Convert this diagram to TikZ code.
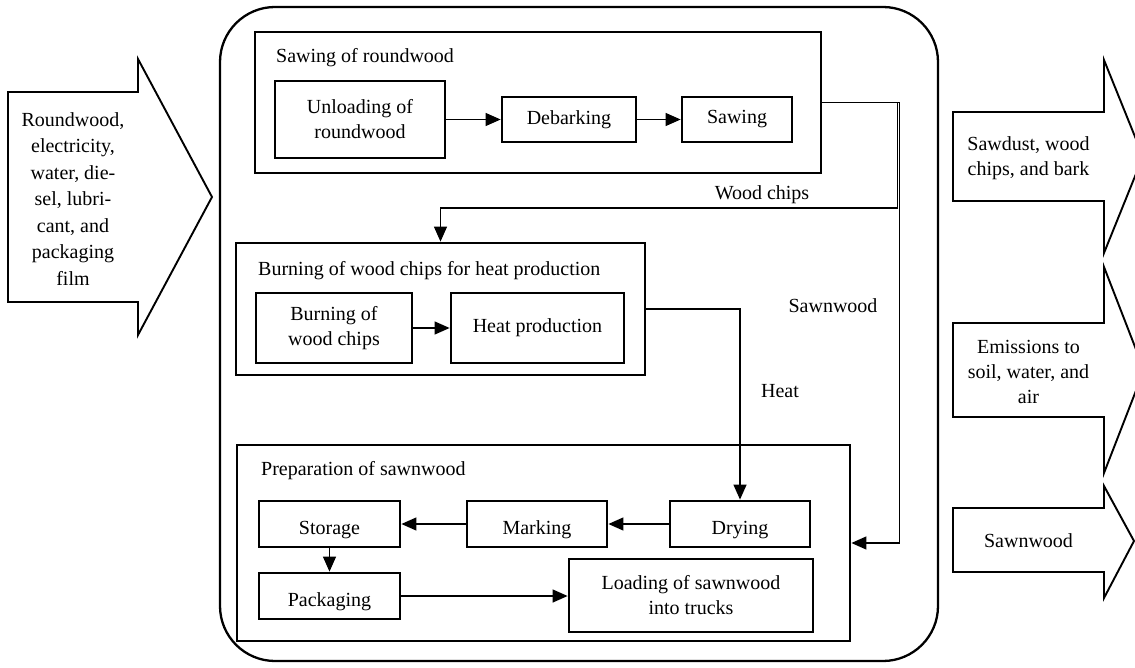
\documentclass[tikz,border=0pt]{standalone}
\usepackage{fontspec}
\setmainfont{Liberation Serif}
\usetikzlibrary{arrows.meta}
\begin{document}
\begin{tikzpicture}[x=1pt,y=-1pt,
  font=\fontsize{20}{25}\selectfont,
  box/.style={draw, line width=2.8pt, inner sep=0pt, align=center},
  lowbox/.style={box, text depth=0pt, text height=21pt},
  grp/.style={draw, line width=2.8pt, inner sep=0pt},
  flow/.style={line width=1.3pt, -{Triangle[length=15pt,width=13pt]}},
  wire/.style={line width=1.3pt},
  bigarrow/.style={draw, line width=1.9pt, line join=miter},
  lbl/.style={inner sep=0pt, align=center}]
\clip (0,0) rectangle (1135,668);

% plant boundary
\node[draw, line width=2.3pt, rounded corners=55pt, minimum width=718pt,
      minimum height=654pt, inner sep=0pt] (plant) at (579,334) {};

% inputs
\draw[bigarrow] (8,92) -- (138,92) -- (138,59) -- (212,197) -- (138,335)
  -- (138,302) -- (8,302) -- cycle;
\node[lbl, font=\fontsize{20}{26.5}\selectfont] (inputs) at (73,199)
  {Roundwood,\\electricity,\\water, die-\\sel, lubri-\\cant, and\\packaging\\film};

% outputs
\draw[bigarrow] (953,112) -- (1104,112) -- (1104,60) -- (1143,156.5)
  -- (1104,253) -- (1104,201) -- (953,201) -- cycle;
\node[lbl] (out1) at (1028.5,158) {Sawdust, wood\\chips, and bark};
\draw[bigarrow] (953,323) -- (1104,323) -- (1104,267) -- (1144,370)
  -- (1104,473) -- (1104,417) -- (953,417) -- cycle;
\node[lbl] (out2) at (1028.5,372) {Emissions to\\soil, water, and\\air};
\draw[bigarrow] (953,508) -- (1104,508) -- (1104,486) -- (1134,541)
  -- (1104,598) -- (1104,572) -- (953,572) -- cycle;
\node[lbl] (out3) at (1028.5,541) {Sawnwood};

% sawing of roundwood
\node[grp, minimum width=566pt, minimum height=141pt] (sawgrp) at (538,102.5) {};
\node[lbl, anchor=west] (sawtitle) at (276,58) {Sawing of roundwood};
\node[box, minimum width=170pt, minimum height=77pt] (unload) at (360,119.5) {Unloading of\\roundwood};
\node[box, minimum width=134pt, minimum height=45pt] (debark) at (569,119.5) {Debarking};
\node[box, minimum width=110pt, minimum height=45pt] (sawing) at (737,119.5) {Sawing};
\draw[flow] (unload) -- (debark);
\draw[flow] (debark) -- (sawing);

% burning of wood chips
\node[grp, minimum width=409pt, minimum height=132pt] (burngrp) at (440.5,309) {};
\node[lbl, anchor=west] (burntitle) at (258,271) {Burning of wood chips for heat production};
\node[box, minimum width=156pt, minimum height=70pt] (burnchips) at (334,328) {Burning of\\wood chips};
\node[box, minimum width=173pt, minimum height=70pt] (heatprod) at (537.5,328) {Heat production};
\draw[flow] (burnchips) -- (heatprod);

% preparation of sawnwood
\node[grp, minimum width=613pt, minimum height=196pt] (prepgrp) at (543.5,543) {};
\node[lbl, anchor=west] (preptitle) at (261,471) {Preparation of sawnwood};
\node[lowbox, minimum width=141pt, minimum height=46pt] (storage) at (329.5,524) {Storage};
\node[lowbox, minimum width=140pt, minimum height=46pt] (marking) at (537,524) {Marking};
\node[lowbox, minimum width=140pt, minimum height=46pt] (drying) at (740,524) {Drying};
\node[lowbox, minimum width=141pt, minimum height=46pt] (packaging) at (329.5,596) {Packaging};
\node[box, minimum width=244pt, minimum height=73pt] (loading) at (691,595.5) {Loading of sawnwood\\into trucks};
\draw[flow] (drying) -- (marking);
\draw[flow] (marking) -- (storage);
\draw[flow] (storage) -- (packaging);
\draw[flow] (packaging.east) -- (packaging.east -| loading.west);

% flows between the sub-processes
\coordinate (chipsturn) at (897.5,208);
\coordinate (sawnturn) at (899.5,208);
\draw[flow] (sawgrp.east) -| (chipsturn) -| (burngrp.north);
\draw[flow] (sawgrp.east) -| (sawnturn) |- (prepgrp.east);
\draw[flow] (burngrp.east) -| (drying.north);

\node[lbl] (chipslbl) at (762,195) {Wood chips};
\node[lbl] (sawnlbl) at (833,306) {Sawnwood};
\node[lbl] (heatlbl) at (780,391) {Heat};
\end{tikzpicture}
\end{document}
